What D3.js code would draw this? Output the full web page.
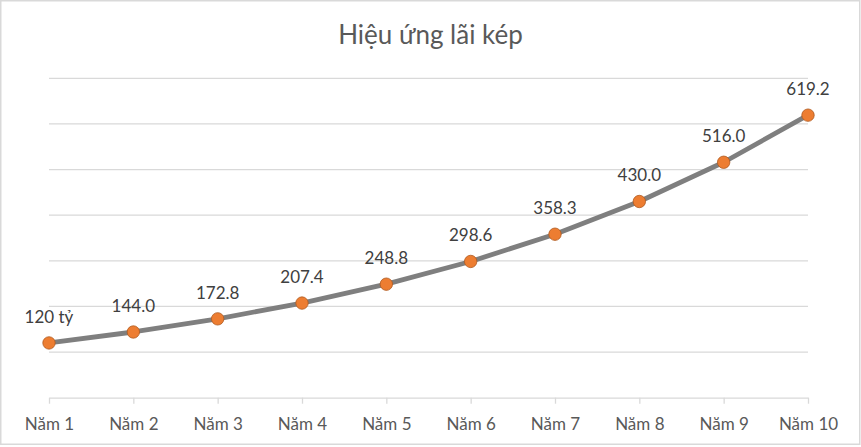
<!DOCTYPE html>
<html><head><meta charset="utf-8">
<script src="https://cdn.jsdelivr.net/npm/d3@7"></script>
<style>body{margin:0;background:#fff}svg{display:block}text{font-family:Lato,"Open Sans",sans-serif}</style>
</head><body>
<svg id="c" width="861" height="447"></svg>
<script>
const title = "Hiệu ứng lãi kép";
const categories = ["Năm 1","Năm 2","Năm 3","Năm 4","Năm 5","Năm 6","Năm 7","Năm 8","Năm 9","Năm 10"];
const values = [120, 144.0, 172.8, 207.4, 248.8, 298.6, 358.3, 430.0, 516.0, 619.2];
const labels = ["120 tỷ","144.0","172.8","207.4","248.8","298.6","358.3","430.0","516.0","619.2"];
const gridValues = [100,200,300,400,500,600,700];

const svg = d3.select("#c");
svg.append("rect").attr("x",0.75).attr("y",0.75).attr("width",859).attr("height",443.5)
  .attr("fill","#fff").attr("stroke","#d9d9d9").attr("stroke-width",1.5);

const x = d3.scalePoint().domain(categories).range([49,808]);
const y = d3.scaleLinear().domain([0,700]).range([397.7,78.3]);

svg.append("g").selectAll("line").data(gridValues).join("line")
  .attr("x1",49).attr("x2",808).attr("y1",d=>y(d)).attr("y2",d=>y(d))
  .attr("stroke","#d9d9d9").attr("stroke-width",1.3);

const ax = svg.append("g").attr("transform",`translate(0,${y(0)})`)
  .call(d3.axisBottom(x).tickSize(6).tickPadding(14).tickSizeOuter(0));
ax.select(".domain").attr("stroke","#d9d9d9").attr("stroke-width",1.3);
ax.selectAll(".tick line").attr("stroke","#d9d9d9").attr("stroke-width",1.3);
ax.selectAll(".tick text").attr("fill","#595959").style("font-size","17px").style("font-family","Lato");

svg.append("path").datum(values)
  .attr("d", d3.line().x((d,i)=>x(categories[i])).y(d=>y(d)))
  .attr("fill","none").attr("stroke","#7f7f7f").attr("stroke-width",4.8).attr("stroke-linejoin","round");

svg.append("g").selectAll("circle").data(values).join("circle")
  .attr("cx",(d,i)=>x(categories[i])).attr("cy",d=>y(d)).attr("r",6.2)
  .attr("fill","#ed7d31").attr("stroke","#ae5a21").attr("stroke-width",0.8);

svg.append("g").selectAll("text").data(values).join("text")
  .attr("x",(d,i)=>x(categories[i])).attr("y",d=>y(d)-20)
  .attr("text-anchor","middle").attr("fill","#404040").style("font-size","17px")
  .text((d,i)=>labels[i]);

svg.append("text").attr("x",430.5).attr("y",44).attr("text-anchor","middle")
  .attr("fill","#595959").style("font-size","26px").text(title);
</script>
</body></html>
